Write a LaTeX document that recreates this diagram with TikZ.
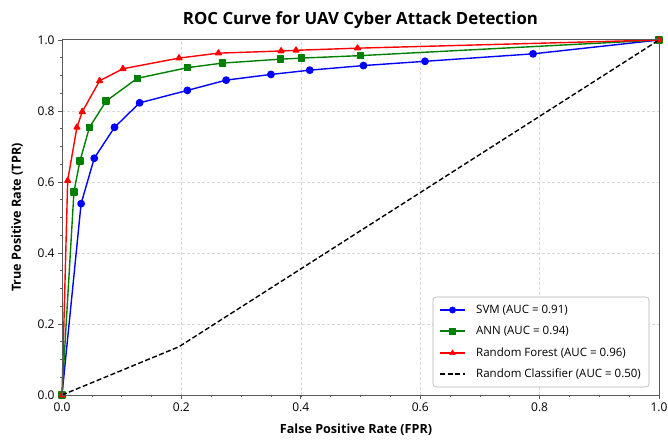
\documentclass[tikz,border=0pt]{standalone}
\usepackage{fontspec}
\setmainfont{Open Sans}
\usetikzlibrary{plotmarks}
\definecolor{svmblue}{RGB}{0,0,255}
\definecolor{anngreen}{RGB}{0,128,0}
\definecolor{rfred}{RGB}{255,0,0}
\definecolor{framegray}{RGB}{90,90,90}
\definecolor{gridgray}{RGB}{215,215,215}

\begin{document}
\begin{tikzpicture}[x=597pt,y=355pt]
\tikzstyle{every node}+=[inner sep=1pt, font=\fontsize{11.5}{13}\selectfont]
\tikzstyle{curve}=[line width=1.4pt, line join=round]
\tikzstyle{gridline}=[gridgray, dash pattern=on 3pt off 2pt, line width=0.6pt]
\tikzstyle{chance}=[black, dash pattern=on 5pt off 2.5pt, line width=1.4pt]
\tikzstyle{axislabel}=[font=\fontsize{12.6}{15}\selectfont\bfseries]
\tikzstyle{ticklabel}=[text=black, font=\fontsize{12}{14}\selectfont]
\useasboundingbox (-62pt,-45pt) rectangle (606pt,395pt);

% grid
\foreach \v in {0.2,0.4,0.6,0.8} {
  \draw [gridline] (\v,0) -- (\v,1);
  \draw [gridline] (0,\v) -- (1,\v);
}

% minor ticks
\foreach \i in {0,...,20} {
  \draw [framegray, line width=0.6pt] (\i*0.05,0) -- ++(0,-2pt);
  \draw [framegray, line width=0.6pt] (0,\i*0.05) -- ++(-2pt,0);
}
% major ticks and labels
\foreach \v/\n in {0.0/a,0.2/b,0.4/c,0.6/d,0.8/e,1.0/f} {
  \draw [framegray, line width=0.8pt] (\v,0) -- ++(0,-4pt) node [ticklabel, below=2pt] (xt\n) {\v};
  \draw [framegray, line width=0.8pt] (0,\v) -- ++(-4pt,0) node [ticklabel, left=2pt] (yt\n) {\v};
}

% SVM
\draw [curve, svmblue] plot [mark=*, mark size=3.2pt, mark options={fill=svmblue}] coordinates {
  (0,0) (0.032,0.539) (0.054,0.667) (0.088,0.754) (0.130,0.823) (0.210,0.858)
  (0.275,0.887) (0.350,0.903) (0.415,0.915) (0.505,0.928) (0.608,0.940)
  (0.789,0.961) (1,1)};
% ANN
\draw [curve, anngreen] plot [mark=square*, mark size=3pt, mark options={fill=anngreen}] coordinates {
  (0,0) (0.020,0.572) (0.030,0.659) (0.046,0.754) (0.074,0.828) (0.126,0.892)
  (0.210,0.922) (0.269,0.935) (0.366,0.946) (0.401,0.949) (0.500,0.956) (1,1)};
% Random Forest
\draw [curve, rfred] plot [mark=triangle*, mark size=3.2pt, mark options={fill=rfred}] coordinates {
  (0,0) (0.0095,0.604) (0.025,0.754) (0.034,0.798) (0.063,0.885) (0.102,0.919)
  (0.196,0.949) (0.262,0.963) (0.367,0.969) (0.392,0.971) (0.495,0.977) (1,1)};
% Random Classifier
\draw [chance] (0,0) -- (0.196,0.136) -- (1,1);

% frame
\draw [framegray, line width=1pt] (0,0) rectangle (1,1);

% legend
\draw [gray!60, fill=white, rounded corners=3pt, line width=0.6pt] (371pt,8pt) rectangle (587pt,98pt);
\draw [curve, svmblue] (378pt,85pt) -- (403pt,85pt);
\path plot [mark=*, mark size=3.2pt, mark options={svmblue, fill=svmblue}] coordinates {(390.5pt,85pt)};
\node [anchor=west] (lsvm) at (413pt,85pt) {SVM (AUC = 0.91)};
\draw [curve, anngreen] (378pt,64pt) -- (403pt,64pt);
\path plot [mark=square*, mark size=3pt, mark options={anngreen, fill=anngreen}] coordinates {(390.5pt,64pt)};
\node [anchor=west] (lann) at (413pt,64pt) {ANN (AUC = 0.94)};
\draw [curve, rfred] (378pt,42pt) -- (403pt,42pt);
\path plot [mark=triangle*, mark size=3.2pt, mark options={rfred, fill=rfred}] coordinates {(390.5pt,42pt)};
\node [anchor=west] (lrf) at (413pt,42pt) {Random Forest (AUC = 0.96)};
\draw [chance] (378pt,21pt) -- (403pt,21pt);
\node [anchor=west] (lrc) at (413pt,21pt) {Random Classifier (AUC = 0.50)};

% title and axis labels
\node [font=\fontsize{16.8}{20}\selectfont\bfseries] (title) at (298.5pt,375pt) {ROC Curve for UAV Cyber Attack Detection};
\node [axislabel] (xlabel) at (294pt,-35pt) {False Positive Rate (FPR)};
\node [axislabel, rotate=90] (ylabel) at (-45pt,177.5pt) {True Positive Rate (TPR)};
\end{tikzpicture}
\end{document}
